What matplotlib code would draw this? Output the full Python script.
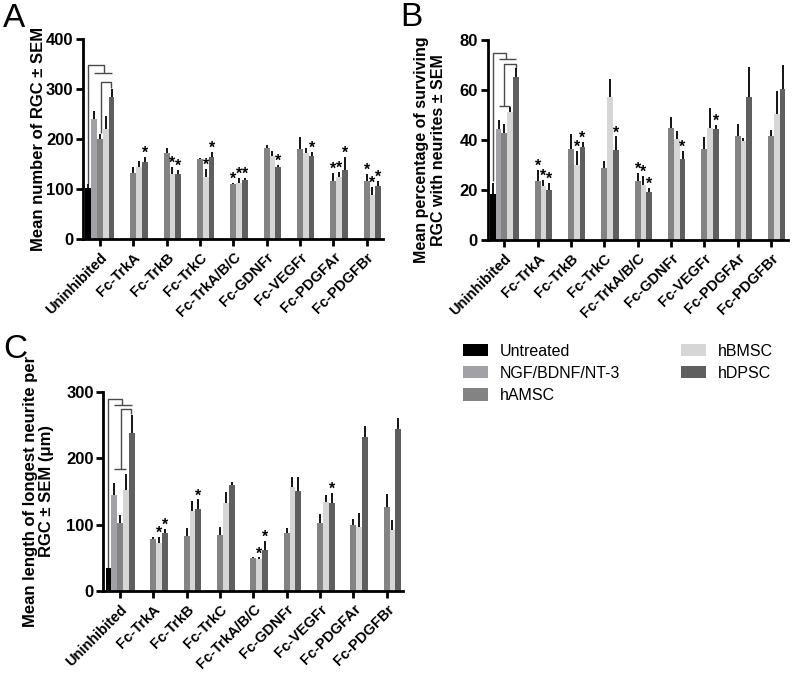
import matplotlib
matplotlib.use("Agg")
import matplotlib.pyplot as plt
import numpy as np

plt.rcParams.update({
    'font.family': ['Liberation Sans', 'DejaVu Sans'],
    'axes.linewidth': 2.0,
    'xtick.major.width': 2.0,
    'ytick.major.width': 2.0,
    'xtick.major.size': 5,
    'ytick.major.size': 5,
})

# ---------------------------------------------------------
# data
# ---------------------------------------------------------
grupos = ['Uninhibited', 'Fc-TrkA', 'Fc-TrkB', 'Fc-TrkC', 'Fc-TrkA/B/C',
          'Fc-GDNFr', 'Fc-VEGFr', 'Fc-PDGFAr', 'Fc-PDGFBr']
series = ['Untreated', 'NGF/BDNF/NT-3', 'hAMSC', 'hBMSC', 'hDPSC']
colores = ['#000000', '#a2a2a6', '#838383', '#d6d6d6', '#5f5f5f']

# panel A - number of RGC
untreated_a, untreated_a_err = 102, 8
ngf_a, ngf_a_err = 241, 15
hamsc_a = [201, 132, 172, 161, 110, 183, 181, 117, 117]
hamsc_a_err = [10, 12, 11, 1, 2, 6, 24, 15, 13]
hbmsc_a = [221, 144, 130, 124, 112, 166, 172, 124, 89]
hbmsc_a_err = [26, 12, 14, 16, 10, 11, 11, 10, 15]
hdpsc_a = [285, 155, 130, 164, 119, 144, 167, 138, 107]
hdpsc_a_err = [15, 10, 8, 11, 3, 5, 8, 26, 10]
stars_a = {'hAMSC': [0, 0, 0, 0, 1, 0, 0, 1, 1],
           'hBMSC': [0, 0, 1, 1, 1, 0, 0, 1, 1],
           'hDPSC': [0, 1, 1, 1, 1, 1, 1, 1, 1]}

# panel B - % surviving RGC with neurites
untreated_b, untreated_b_err = 18.4, 4.5
ngf_b, ngf_b_err = 44.3, 3.6
hamsc_b = [43.0, 23.5, 36.6, 29.0, 23.8, 44.9, 36.6, 41.5, 41.8]
hamsc_b_err = [3.4, 4.7, 5.7, 2.6, 3.2, 4.5, 4.6, 5.0, 2.2]
hbmsc_b = [51.3, 21.8, 30.2, 57.3, 22.0, 40.5, 45.0, 39.5, 50.4]
hbmsc_b_err = [1.8, 2.4, 5.6, 7.1, 3.6, 3.0, 7.9, 1.5, 9.1]
hdpsc_b = [65.2, 20.2, 37.2, 36.2, 19.4, 32.5, 44.6, 57.4, 60.4]
hdpsc_b_err = [3.8, 2.7, 2.2, 5.3, 1.4, 3.2, 1.4, 11.9, 9.6]
stars_b = {'hAMSC': [0, 1, 0, 0, 1, 0, 0, 0, 0],
           'hBMSC': [0, 1, 1, 0, 1, 0, 0, 0, 0],
           'hDPSC': [0, 1, 1, 1, 1, 1, 1, 0, 0]}

# panel C - longest neurite length
untreated_c, untreated_c_err = 34, 1
ngf_c, ngf_c_err = 144.5, 18.5
hamsc_c = [102, 78.3, 82.3, 84.3, 49.2, 86.8, 101.8, 99.3, 126.9]
hamsc_c_err = [12, 3.5, 12, 12.5, 2.5, 8.5, 14, 9, 19]
hbmsc_c = [152, 72.7, 120.4, 131.9, 47.7, 157, 134.4, 96.8, 91.8]
hbmsc_c_err = [24, 9, 15, 17, 3, 15, 10, 20, 15]
hdpsc_c = [238.3, 86.8, 122.9, 159, 61.7, 150, 131.9, 231.3, 243.8]
hdpsc_c_err = [26.5, 7, 15, 4.5, 14, 22, 16, 17.5, 16]
stars_c = {'hAMSC': [0, 0, 0, 0, 0, 0, 0, 0, 0],
           'hBMSC': [0, 1, 0, 0, 1, 0, 0, 0, 0],
           'hDPSC': [0, 1, 1, 0, 1, 0, 1, 0, 0]}

ANCHO = 0.174
OFFS = np.array([-2, -1, 0, 1, 2]) * ANCHO


def panel(ax, base, base_err, ngf, ngf_err, am, am_err, bm, bm_err, dp, dp_err,
          stars, ymax, paso, ylabel, corchetes, ylab_size=12):
    x = np.arange(len(grupos))
    valores = [([base], [base_err], [0]), ([ngf], [ngf_err], [0]),
               (am, am_err, x), (bm, bm_err, x), (dp, dp_err, x)]
    for i, (v, e, xs) in enumerate(valores):
        xs = np.asarray(xs) + OFFS[i]
        ax.bar(xs, v, width=ANCHO, color=colores[i], label=series[i], zorder=2)
        ax.errorbar(xs, v, yerr=[np.zeros(len(v)), e], fmt='none', ecolor='black',
                    elinewidth=1.3, capsize=0, zorder=3)
        if series[i] in stars:
            for j, s in enumerate(stars[series[i]]):
                if s:
                    ax.annotate('*', (xs[j], v[j] + e[j]), xytext=(0, -3),
                                textcoords='offset points', ha='center', va='bottom',
                                fontsize=11.5, fontweight='bold')
    # significance brackets
    for seg in corchetes:
        ax.plot(seg[0], seg[1], color='#4a4a4a', lw=1.0, zorder=1, solid_capstyle='butt')

    ax.set_xlim(-0.5, 8.5)
    ax.set_ylim(0, ymax)
    ax.set_yticks(np.arange(0, ymax + 1, paso))
    ax.set_xticks(x)
    ax.set_xticklabels(grupos, rotation=45, ha='right', rotation_mode='anchor',
                       fontsize=10.5, fontweight='bold')
    for t in ax.get_yticklabels():
        t.set_fontweight('bold')
        t.set_fontsize(12)
    ax.tick_params(axis='x', pad=3)
    ax.tick_params(axis='y', pad=2)
    ax.spines['top'].set_visible(False)
    ax.spines['right'].set_visible(False)
    ax.set_ylabel(ylabel, fontsize=ylab_size, fontweight='bold', linespacing=1.1)


fig = plt.figure(figsize=(7.92, 6.74), dpi=100)
axA = fig.add_axes([0.1052, 0.6454, 0.3788, 0.2967])
axB = fig.add_axes([0.6157, 0.6439, 0.3788, 0.2967])
axC = fig.add_axes([0.1305, 0.1231, 0.3788, 0.2960])

u, n = OFFS[0], OFFS[1]
brA = [([u, u, 0.13, 0.13], [110, 348, 348, 333]), ([n, OFFS[4]], [333, 333]),
       ([0.03, 0.03, 0.33, 0.33], [213, 315, 315, 303])]
panel(axA, untreated_a, untreated_a_err, ngf_a, ngf_a_err, hamsc_a, hamsc_a_err,
      hbmsc_a, hbmsc_a_err, hdpsc_a, hdpsc_a_err, stars_a, 400, 100,
      'Mean number of RGC \u00b1 SEM', brA)

brB = [([u, u, 0.06, 0.06], [23.5, 75, 75, 72.4]), ([n, OFFS[4]], [72.4, 72.4]),
       ([-0.02, -0.02, 0.34, 0.34], [53.7, 70.3, 70.3, 69]), ([n, OFFS[3]], [53.7, 53.7])]
panel(axB, untreated_b, untreated_b_err, ngf_b, ngf_b_err, hamsc_b, hamsc_b_err,
      hbmsc_b, hbmsc_b_err, hdpsc_b, hdpsc_b_err, stars_b, 80, 20,
      'Mean percentage of surviving\nRGC with neurites \u00b1 SEM', brB, ylab_size=11.5)

brC = [([u, u, 0.05, 0.05], [35, 289, 289, 279]), ([n, OFFS[4]], [279, 279]),
       ([0.03, 0.03, 0.34, 0.34], [183, 273, 273, 266]), ([n, OFFS[3]], [183, 183])]
panel(axC, untreated_c, untreated_c_err, ngf_c, ngf_c_err, hamsc_c, hamsc_c_err,
      hbmsc_c, hbmsc_c_err, hdpsc_c, hdpsc_c_err, stars_c, 300, 100,
      'Mean length of longest neurite per\nRGC \u00b1 SEM (\u03bcm)', brC)

axA.yaxis.set_label_coords(-0.125, 0.5)
axB.yaxis.set_label_coords(-0.14, 0.45)
axC.yaxis.set_label_coords(-0.165, 0.5)

fig.text(0.004, 0.995, 'A', fontsize=24, va='top', ha='left')
fig.text(0.505, 0.997, 'B', fontsize=24, va='top', ha='left')
fig.text(0.004, 0.505, 'C', fontsize=24, va='top', ha='left')

h, l = axA.get_legend_handles_labels()
fig.legend(h, l, loc='upper left', bbox_to_anchor=(0.585, 0.49), ncol=2,
           frameon=False, fontsize=11.5, borderpad=0, borderaxespad=0,
           handlelength=1.55, handleheight=0.8, handletextpad=0.75,
           columnspacing=3.8, labelspacing=0.45)

fig.savefig('out.png', dpi=100)
